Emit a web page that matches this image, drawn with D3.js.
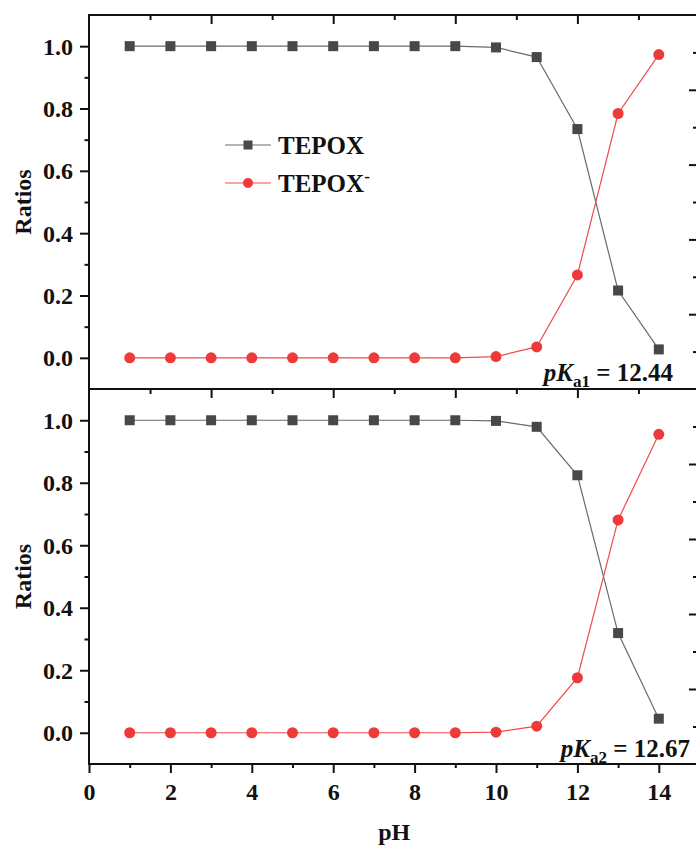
<!DOCTYPE html>
<html>
<head>
<meta charset="utf-8">
<script src="https://cdn.jsdelivr.net/npm/d3@7"></script>
<style>
  html, body { margin: 0; padding: 0; background: #fff; }
  svg { display: block; }
  text { font-family: "Liberation Serif", "Times New Roman", serif; font-weight: bold; fill: #111; }
</style>
</head>
<body>
<svg id="chart" width="696" height="850"></svg>
<script>
// ---- data ----
const pH = [1, 2, 3, 4, 5, 6, 7, 8, 9, 10, 11, 12, 13, 14];
const tepoxTop      = [1, 1, 1, 1, 1, 1, 1, 1, 1, 0.996, 0.965, 0.734, 0.216, 0.027];
const tepoxMinusTop = [0, 0, 0, 0, 0, 0, 0, 0, 0, 0.004, 0.035, 0.266, 0.784, 0.973];
const tepoxBot      = [1, 1, 1, 1, 1, 1, 1, 1, 1, 0.998, 0.979, 0.824, 0.319, 0.045];
const tepoxMinusBot = [0, 0, 0, 0, 0, 0, 0, 0, 0, 0.002, 0.021, 0.176, 0.681, 0.955];
const xMajorTicks = [0, 2, 4, 6, 8, 10, 12, 14];
const xMinorTicks = [1, 3, 5, 7, 9, 11, 13];
const yMajorTicks = [0, 0.2, 0.4, 0.6, 0.8, 1.0];
const yMinorTicks = [0.1, 0.3, 0.5, 0.7, 0.9];
const topMajorTicks = [3, 6, 9, 12];
const topMinorTicks = [1.5, 4.5, 7.5, 10.5, 13.5];
const rightMajorTicks = [1, 2, 3, 4];
const rightMinorTicks = [0.5, 1.5, 2.5, 3.5, 4.5];
const seriesNames = ["TEPOX", "TEPOX"];
const annotations = [{main: "pK", sub: "a1", rest: " = 12.44"}, {main: "pK", sub: "a2", rest: " = 12.67"}];

// ---- layout ----
const svg = d3.select("#chart");
const left = 89, right = 699.5;
const panels = [
  {top: 15, bottom: 389, a: tepoxTop, b: tepoxMinusTop, ann: annotations[0], annX: 673, annY: 381},
  {top: 389, bottom: 764, a: tepoxBot, b: tepoxMinusBot, ann: annotations[1], annX: 690, annY: 757}
];
const x = d3.scaleLinear().domain([0, 15]).range([left, right]);
const grayLine = "#6a6a6a", grayFill = "#484848", redLine = "#ef4b4b", redFill = "#ef3a3a";

function styleAxis(g) {
  g.selectAll("path.domain").remove();
  g.selectAll("line").attr("stroke", "#111").attr("stroke-width", 2);
  g.selectAll("text").style("font-size", "24px").attr("fill", "#111");
}

panels.forEach((p, i) => {
  const y = d3.scaleLinear().domain([-0.1, 1.1]).range([p.bottom, p.top]);
  const yr = d3.scaleLinear().domain([0, 5]).range([p.bottom, p.top]);
  const g = svg.append("g");

  // top ticks (inward)
  g.append("g").attr("transform", `translate(0,${p.top})`)
    .call(d3.axisTop(x).tickValues(topMajorTicks).tickSize(-9).tickFormat(""))
    .call(styleAxis);
  g.append("g").attr("transform", `translate(0,${p.top})`)
    .call(d3.axisTop(x).tickValues(topMinorTicks).tickSize(-5).tickFormat(""))
    .call(styleAxis);
  // right axis (mostly off-canvas)
  g.append("g").attr("transform", `translate(697,0)`)
    .call(d3.axisRight(yr).tickValues(rightMajorTicks).tickSize(-8).tickFormat(""))
    .call(styleAxis);
  g.append("g").attr("transform", `translate(697,0)`)
    .call(d3.axisRight(yr).tickValues(rightMinorTicks).tickSize(-4).tickFormat(""))
    .call(styleAxis);
  // left axis
  g.append("g").attr("transform", `translate(${left},0)`)
    .call(d3.axisLeft(y).tickValues(yMajorTicks).tickSize(9).tickPadding(7).tickFormat(d3.format(".1f")))
    .call(styleAxis)
    .call(s => s.selectAll("text").attr("dy", "0.33em"));
  g.append("g").attr("transform", `translate(${left},0)`)
    .call(d3.axisLeft(y).tickValues(yMinorTicks).tickSize(4.5).tickFormat(""))
    .call(styleAxis);

  // frame lines
  g.append("line").attr("x1", left).attr("x2", left).attr("y1", p.top - 1).attr("y2", p.bottom + 1)
    .attr("stroke", "#111").attr("stroke-width", 2);
  g.append("line").attr("x1", left - 1).attr("x2", 700).attr("y1", p.top).attr("y2", p.top)
    .attr("stroke", "#111").attr("stroke-width", 2);

  // y label
  g.append("text").attr("transform", `translate(31,${(p.top + p.bottom) / 2}) rotate(-90)`)
    .attr("text-anchor", "middle").style("font-size", "24px").text("Ratios");

  // series
  const lineA = d3.line().x((d, k) => x(pH[k])).y(d => y(d));
  g.append("path").datum(p.a).attr("d", lineA).attr("fill", "none").attr("stroke", grayLine).attr("stroke-width", 1.2);
  g.append("path").datum(p.b).attr("d", lineA).attr("fill", "none").attr("stroke", redLine).attr("stroke-width", 1.2);
  g.selectAll("rect.pt").data(p.a).join("rect").attr("class", "pt")
    .attr("x", (d, k) => x(pH[k]) - 5).attr("y", d => y(d) - 5)
    .attr("width", 10).attr("height", 10).attr("fill", grayFill);
  g.selectAll("circle.pt").data(p.b).join("circle").attr("class", "pt")
    .attr("cx", (d, k) => x(pH[k])).attr("cy", d => y(d)).attr("r", 5.5).attr("fill", redFill);

  // annotation
  const t = g.append("text").attr("x", p.annX).attr("y", p.annY).attr("text-anchor", "end").style("font-size", "25px");
  t.append("tspan").style("font-style", "italic").text(p.ann.main);
  t.append("tspan").style("font-size", "17px").attr("dy", 6).text(p.ann.sub);
  t.append("tspan").attr("dy", -6).text(p.ann.rest);
});

// bottom axis
svg.append("g").attr("transform", `translate(0,764)`)
  .call(d3.axisBottom(x).tickValues(xMajorTicks).tickSize(9).tickPadding(10).tickFormat(d3.format("d")))
  .call(styleAxis);
svg.append("g").attr("transform", `translate(0,764)`)
  .call(d3.axisBottom(x).tickValues(xMinorTicks).tickSize(4).tickFormat(""))
  .call(styleAxis);
svg.append("line").attr("x1", left - 1).attr("x2", 700).attr("y1", 764).attr("y2", 764)
  .attr("stroke", "#111").attr("stroke-width", 2);

svg.append("text").attr("x", (left + right) / 2).attr("y", 840).attr("text-anchor", "middle")
  .style("font-size", "24px").text("pH");

// legend
const legend = svg.append("g");
const legendRows = [
  {name: seriesNames[0], sup: "", y: 145, stroke: grayLine, fill: grayFill, shape: "rect"},
  {name: seriesNames[1], sup: "-", y: 183, stroke: redLine, fill: redFill, shape: "circle"}
];
legendRows.forEach(r => {
  legend.append("line").attr("x1", 225).attr("x2", 271).attr("y1", r.y).attr("y2", r.y)
    .attr("stroke", r.stroke).attr("stroke-width", 1.2);
  if (r.shape === "rect") {
    legend.append("rect").attr("x", 248 - 4.5).attr("y", r.y - 4.5).attr("width", 9).attr("height", 9).attr("fill", r.fill);
  } else {
    legend.append("circle").attr("cx", 248).attr("cy", r.y).attr("r", 5).attr("fill", r.fill);
  }
  const t = legend.append("text").attr("x", 278).attr("y", r.y + 8.5).style("font-size", "25px");
  t.append("tspan").text(r.name);
  if (r.sup) t.append("tspan").attr("dy", -10).style("font-size", "17px").text(r.sup);
});
</script>
</body>
</html>
